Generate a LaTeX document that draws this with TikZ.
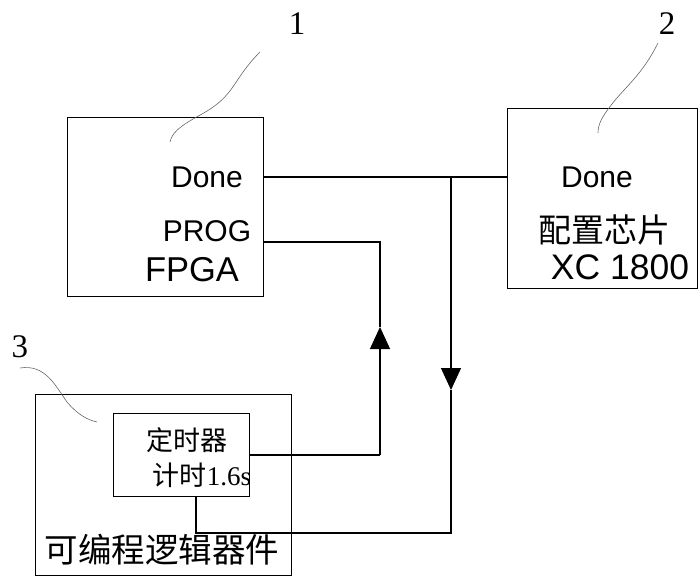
\documentclass[tikz,border=0pt]{standalone}
\usepackage{fontspec}
\setmainfont{Liberation Sans}
\newfontfamily\serifnum{Liberation Serif}
\newfontfamily\cjk{Noto Sans CJK SC}
\usetikzlibrary{arrows.meta}
\begin{document}
\begin{tikzpicture}[x=1pt,y=-1pt,
  box/.style={draw,line width=1.1pt,anchor=north west,inner sep=0pt},
  wire/.style={line width=1.1pt},
  leader/.style={draw=black!60,line width=0.6pt},
  lbl/.style={inner sep=0pt,anchor=center},
  tip/.style={-{Triangle[width=20pt,length=22pt]}}]
\useasboundingbox (0,0) rectangle (698,577);
% boxes
\node[box,minimum width=196pt,minimum height=179pt] (fpga) at (67,117) {};
\node[box,minimum width=190pt,minimum height=180pt] (cfg) at (507,108) {};
\node[box,minimum width=256pt,minimum height=181pt] (outer) at (35,394) {};
\node[box,minimum width=136pt,minimum height=83pt] (timer) at (113,413) {};
% texts
\node[lbl,font=\fontsize{30}{30}\selectfont] (done1) at (207,177) {Done};
\node[lbl,font=\fontsize{30}{30}\selectfont] (prog) at (207,231) {PROG};
\node[lbl,font=\fontsize{34.5}{34.5}\selectfont] (fpgat) at (192,270) {FPGA};
\node[lbl,font=\fontsize{30}{30}\selectfont] (done2) at (597,177) {Done};
\node[lbl,font=\cjk\fontsize{33}{33}\selectfont] (cfgt) at (604,230) {配置芯片};
\node[lbl,font=\fontsize{35.5}{35.5}\selectfont] (xc) at (620,267) {XC 1800};
\node[lbl,font=\cjk\fontsize{27}{27}\selectfont] (tm1) at (187,440) {定时器};
\node[lbl,font=\fontsize{27}{27}\selectfont] (tm2) at (202,475) {{\cjk 计时}{\serifnum 1.6s}};
\node[lbl,font=\cjk\fontsize{33.5}{33.5}\selectfont] (pld) at (162,550) {可编程逻辑器件};
\node[lbl,font=\serifnum\fontsize{33}{33}\selectfont] (n1) at (297,24) {1};
\node[lbl,font=\serifnum\fontsize{33}{33}\selectfont] (n2) at (667,24) {2};
\node[lbl,font=\serifnum\fontsize{33}{33}\selectfont] (n3) at (20,347) {3};
% leader curves
\draw[leader] (260,52) .. controls (232,80) and (236,95) .. (202,114) .. controls (176,128) and (172,134) .. (170,142);
\draw[leader] (658,43) .. controls (642,75) and (626,86) .. (612,104) .. controls (601,118) and (598,125) .. (598,133);
\draw[leader] (20,368) .. controls (45,364) and (55,385) .. (67,402) .. controls (78,415) and (88,420) .. (97,422);
% connectors
\coordinate (j) at (451,177);
\coordinate (pr) at (380,242);
\coordinate (tr) at (380,455);
\coordinate (bl) at (196,533);
\coordinate (br) at (451,533);
\coordinate (upa) at (380,327);
\coordinate (dna) at (451,390);
\draw[wire] (fpga.east |- j) -- (cfg.west |- j);
\draw[wire,tip] (j) -- (dna);
\draw[wire] (dna) -- (br) -- (bl) -- (timer.south -| bl);
\draw[wire] (fpga.east |- pr) -- (pr) -- (upa);
\draw[wire,tip] (tr) -- (upa);
\draw[wire] (timer.east |- tr) -- (tr);
\end{tikzpicture}
\end{document}
